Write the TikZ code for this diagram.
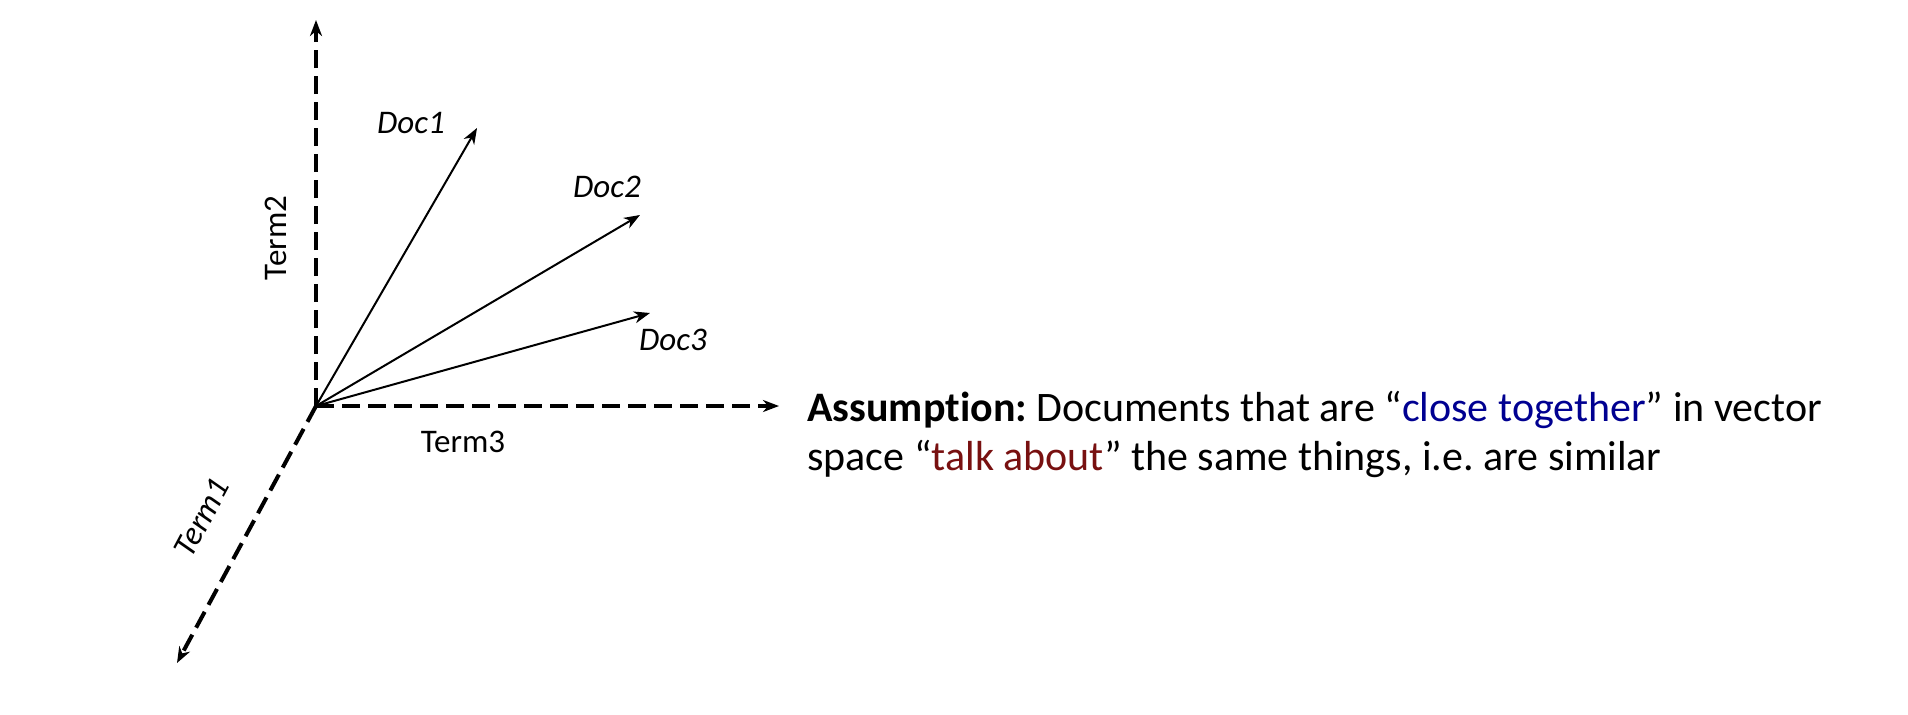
\documentclass[tikz,border=0pt]{standalone}
\usepackage{fontspec}
\setmainfont[Ligatures=NoCommon]{Carlito}
\usetikzlibrary{arrows.meta}
\definecolor{closeblue}{RGB}{0,0,145}
\definecolor{talkred}{RGB}{120,16,16}
\tikzset{
  axisline/.style={line width=2pt, dash pattern=on 9pt off 4pt,
    -{Stealth[length=8pt,width=6pt,inset=2.5pt]}},
  docvec/.style={line width=1pt, -{Stealth[length=8pt,width=6pt,inset=2.5pt]}},
  lbl/.style={font=\fontsize{16.5}{20}\selectfont, inner sep=0pt},
  ilbl/.style={lbl, font=\fontsize{16.5}{20}\selectfont\itshape},
  bodytext/.style={font=\fontsize{21}{25}\selectfont, inner sep=0pt, anchor=base west},
}
\begin{document}
\frenchspacing
\begin{tikzpicture}[x=0.5pt,y=-0.5pt]
\useasboundingbox (0,0) rectangle (1908,714);
\coordinate (O) at (316,406);
\coordinate (T2) at (316,20);
\coordinate (T3) at (779,406);
\coordinate (T1) at (177,663);
\coordinate (D1) at (477,128);
\coordinate (D2) at (640,215);
\coordinate (D3) at (650,313);
\draw[axisline] (O) -- (T2);
\draw[axisline] (O) -- (T3);
\draw[axisline] (O) -- (T1);
\draw[docvec] (O) -- (D1);
\draw[docvec] (O) -- (D2);
\draw[docvec] (O) -- (D3);
\node[ilbl] (ldoc1) at (411,123) {Doc1};
\node[ilbl] (ldoc2) at (607,187) {Doc2};
\node[ilbl] (ldoc3) at (673,340) {Doc3};
\node[lbl, rotate=90] (lterm2) at (276,238) {Term2};
\node[lbl] (lterm3) at (463,442) {Term3};
\node[ilbl, rotate=62] (lterm1) at (202,518) {Term1};
\node[bodytext] (line1) at (807,421) {\textbf{Assumption:} Documents that are “\textcolor{closeblue}{close together}” in vector};
\node[bodytext] (line2) at (807,470) {space “\textcolor{talkred}{talk about}” the same things, i.e.\ are similar};
\end{tikzpicture}
\end{document}
